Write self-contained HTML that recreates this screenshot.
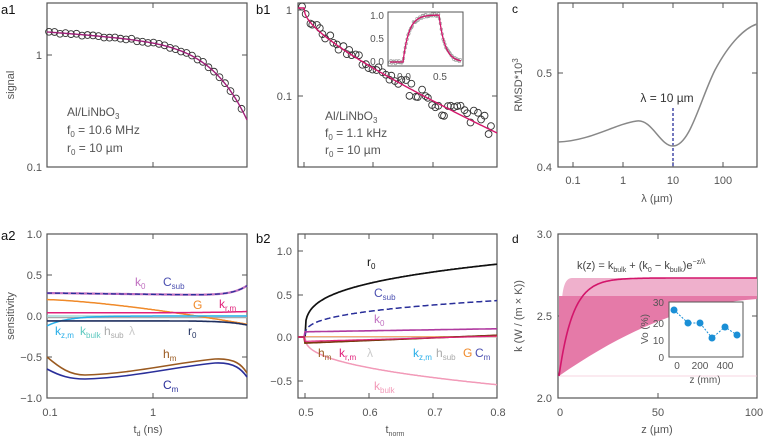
<!DOCTYPE html>
<html><head><meta charset="utf-8"><style>
html,body{margin:0;padding:0;background:#fff}
svg{display:block;font-family:"Liberation Sans",sans-serif}
.t{fill:#555;font-size:11px}
.p{fill:#111;font-size:13px}
.f{fill:none;stroke:#555;stroke-width:1.2}
</style></head><body>
<svg id="s" width="768" height="439" viewBox="0 0 768 439" xmlns="http://www.w3.org/2000/svg">
<text class="p" x="1" y="14">a1</text>
<text class="p" x="256" y="14">b1</text>
<text class="p" x="512" y="13" style="font-size:12px">c</text>
<text class="p" x="1" y="240">a2</text>
<text class="p" x="256" y="243">b2</text>
<text class="p" x="512" y="243" style="font-size:12px">d</text>

<!-- a1 -->
<rect class="f" x="47" y="3" width="200" height="164"/>
<path d="M47 55h5M247 55h-5M153 3v5M153 167v-5" stroke="#555" stroke-width="1"/>
<text class="t" x="42" y="59" text-anchor="end">1</text>
<text class="t" x="42" y="171" text-anchor="end">0.1</text>
<text class="t" transform="translate(14,85) rotate(-90)" text-anchor="middle">signal</text>
<text class="t" x="67" y="116" style="font-size:12px">Al/LiNbO<tspan font-size="8" dy="3">3</tspan></text>
<text class="t" x="67" y="134" style="font-size:12px">f<tspan font-size="8" dy="3">0</tspan><tspan dy="-3"> = 10.6 MHz</tspan></text>
<text class="t" x="67" y="152" style="font-size:12px">r<tspan font-size="8" dy="3">0</tspan><tspan dy="-3"> = 10 µm</tspan></text>
<g id="a1"></g>

<!-- b1 -->
<rect class="f" x="298" y="3" width="199" height="164"/>
<path d="M298 10h5M298 96h5M497 96h-5M304 167v-5M373 167v-5M433 167v-5M433 3v5" stroke="#555" stroke-width="1"/>
<text class="t" x="292" y="14" text-anchor="end">1</text>
<text class="t" x="292" y="100" text-anchor="end">0.1</text>
<text class="t" x="325" y="120" style="font-size:12px">Al/LiNbO<tspan font-size="8" dy="3">3</tspan></text>
<text class="t" x="325" y="137" style="font-size:12px">f<tspan font-size="8" dy="3">0</tspan><tspan dy="-3"> = 1.1 kHz</tspan></text>
<text class="t" x="325" y="154" style="font-size:12px">r<tspan font-size="8" dy="3">0</tspan><tspan dy="-3"> = 10 µm</tspan></text>
<g id="b1"></g>
<rect x="388" y="12" width="75" height="54" fill="#fff" stroke="#555" stroke-width="1"/>
<text class="t" x="384" y="19" text-anchor="end" style="font-size:10px">1.0</text>
<text class="t" x="384" y="42" text-anchor="end" style="font-size:10px">0.5</text>
<text class="t" x="384" y="65" text-anchor="end" style="font-size:10px">0.0</text>
<text class="t" x="404" y="80" text-anchor="middle" style="font-size:10px">0.0</text>
<text class="t" x="440" y="80" text-anchor="middle" style="font-size:10px">0.5</text>
<g id="b1i"></g>

<!-- c -->
<rect class="f" x="558" y="3" width="199" height="164"/>
<path d="M558 73h5M757 73h-5M573 167v-5M623 167v-5M673 167v-5M723 167v-5M573 3v5M623 3v5M673 3v5M723 3v5" stroke="#555" stroke-width="1"/>
<text class="t" x="552" y="77" text-anchor="end">0.5</text>
<text class="t" x="552" y="171" text-anchor="end">0.4</text>
<text class="t" transform="translate(522,85) rotate(-90)" text-anchor="middle">RMSD*10<tspan font-size="8" dy="-4">3</tspan></text>
<text class="t" x="573" y="184" text-anchor="middle">0.1</text>
<text class="t" x="623" y="184" text-anchor="middle">1</text>
<text class="t" x="673" y="184" text-anchor="middle">10</text>
<text class="t" x="723" y="184" text-anchor="middle">100</text>
<text class="t" x="657" y="202" text-anchor="middle">λ (µm)</text>
<text class="t" x="667" y="102" text-anchor="middle" style="font-size:12px;fill:#333">λ = 10 µm</text>
<path d="M673 108V167" stroke="#2a2f9a" stroke-width="1.3" stroke-dasharray="3,2"/>
<path d="M558 142 C590 141,615 124,637 121 C652 119,660 146,673 146 C690 146,700 100,715 70 C730 42,745 28,757 24" fill="none" stroke="#888" stroke-width="1.5"/>

<!-- a2 -->
<rect class="f" x="47" y="234" width="200" height="164"/>
<path d="M47 275h5M47 316h5M47 357h5M247 275h-5M247 357h-5M153 398v-5M153 234v5" stroke="#555" stroke-width="1"/>
<text class="t" x="42" y="238" text-anchor="end">1.0</text>
<text class="t" x="42" y="279" text-anchor="end">0.5</text>
<text class="t" x="42" y="320" text-anchor="end">0.0</text>
<text class="t" x="42" y="361" text-anchor="end">−0.5</text>
<text class="t" x="42" y="402" text-anchor="end">−1.0</text>
<text class="t" x="50" y="416" text-anchor="middle">0.1</text>
<text class="t" x="153" y="416" text-anchor="middle">1</text>
<text class="t" x="148" y="433" text-anchor="middle">t<tspan font-size="7" dy="3">d</tspan><tspan dy="-3"> (ns)</tspan></text>
<text class="t" transform="translate(14,316) rotate(-90)" text-anchor="middle">sensitivity</text>
<path d="M47 357 C60 368,70 375,85 375 C130 374,180 362,215 359 C235 358,242 365,247 373" fill="none" stroke="#9a5a20" stroke-width="1.6"/>
<path d="M47 369 C60 376,70 379,85 379 C130 378,180 366,215 363 C235 362,242 370,247 377" fill="none" stroke="#2a2f9a" stroke-width="1.6"/>
<g id="a2"></g>

<!-- b2 -->
<rect class="f" x="298" y="234" width="199" height="164"/>
<path d="M298 251h5M298 295h5M298 337h5M298 381h5M305 398v-5M369 398v-5M433 398v-5M305 234v5M369 234v5M433 234v5M497 337h-5" stroke="#555" stroke-width="1"/>
<text class="t" x="292" y="255" text-anchor="end">1.0</text>
<text class="t" x="292" y="299" text-anchor="end">0.5</text>
<text class="t" x="292" y="341" text-anchor="end">0.0</text>
<text class="t" x="292" y="385" text-anchor="end">−0.5</text>
<text class="t" x="306" y="416" text-anchor="middle">0.5</text>
<text class="t" x="370" y="416" text-anchor="middle">0.6</text>
<text class="t" x="435" y="416" text-anchor="middle">0.7</text>
<text class="t" x="498" y="416" text-anchor="middle">0.8</text>
<text class="t" x="395" y="433" text-anchor="middle">t<tspan font-size="7" dy="3">norm</tspan></text>
<g id="b2"></g>

<!-- d -->
<rect class="f" x="558" y="234" width="199" height="164"/>
<path d="M558 316h5M757 316h-5M658 398v-5M658 234v5" stroke="#555" stroke-width="1"/>
<text class="t" x="552" y="238" text-anchor="end">3.0</text>
<text class="t" x="552" y="320" text-anchor="end">2.5</text>
<text class="t" x="552" y="402" text-anchor="end">2.0</text>
<text class="t" x="560" y="416" text-anchor="middle">0</text>
<text class="t" x="658" y="416" text-anchor="middle">50</text>
<text class="t" x="754" y="416" text-anchor="middle">100</text>
<text class="t" x="657" y="433" text-anchor="middle">z (µm)</text>
<text class="t" transform="translate(522,316) rotate(-90)" text-anchor="middle">k (W / (m × K))</text>
<path d="M562 300 C563 285,566 278,572 278 L757 278 L757 296 L562 296Z" fill="#efb0cc"/>
<path d="M559 376 L559 296 L757 296 L757 299 C700 303,640 320,559 376Z" fill="#e57aa8"/>
<path d="M559 376H757" stroke="#f5c6d6" stroke-width="0.8"/>
<g id="d"></g>
<text class="t" x="577" y="269" style="font-size:11px;fill:#444">k(z) = k<tspan font-size="7" dy="3">bulk</tspan><tspan dy="-3"> + (k</tspan><tspan font-size="7" dy="3">0</tspan><tspan dy="-3"> − k</tspan><tspan font-size="7" dy="3">bulk</tspan><tspan dy="-3">)e</tspan><tspan font-size="7" dy="-5">−z/λ</tspan></text>
<rect x="669" y="302" width="74" height="55" fill="#fff" stroke="#555" stroke-width="1"/>
<text class="t" x="664" y="306" text-anchor="end" style="font-size:10px">30</text>
<text class="t" x="664" y="327" text-anchor="end" style="font-size:10px">20</text>
<text class="t" x="664" y="344" text-anchor="end" style="font-size:10px">10</text>
<text class="t" x="664" y="361" text-anchor="end" style="font-size:10px">0</text>
<text class="t" x="677" y="369" text-anchor="middle" style="font-size:10px">0</text>
<text class="t" x="700" y="369" text-anchor="middle" style="font-size:10px">200</text>
<text class="t" x="725" y="369" text-anchor="middle" style="font-size:10px">400</text>
<text class="t" x="705" y="383" text-anchor="middle" style="font-size:10px">z (mm)</text>
<text class="t" transform="translate(648,329) rotate(-90)" text-anchor="middle" style="font-size:10px">Vo (%)</text>
<polyline points="674,310 688,323 700,323 712,338 725,327 737,335" fill="none" stroke="#1a8fd6" stroke-width="1" stroke-dasharray="2,1.5"/>
<g fill="#1a8fd6"><circle cx="674" cy="310" r="3.5"/><circle cx="688" cy="323" r="3.5"/><circle cx="700" cy="323" r="3.5"/><circle cx="712" cy="338" r="3.5"/><circle cx="725" cy="327" r="3.5"/><circle cx="737" cy="335" r="3.5"/></g>
</svg>
<script>
var NS="http://www.w3.org/2000/svg";
function el(g,tag,a){var e=document.createElementNS(NS,tag);for(var k in a)e.setAttribute(k,a[k]);document.getElementById(g).appendChild(e);return e;}
function pl(g,f,x0,x1,col,w,dash){var p=[];for(var x=x0;x<=x1;x+=1)p.push(x+","+f(x).toFixed(1));var a={points:p.join(" "),fill:"none",stroke:col,"stroke-width":w||1.5};if(dash)a["stroke-dasharray"]=dash;el(g,"polyline",a);}
function lab(g,x,y,t,s,col){var e=el(g,"text",{x:x,y:y,fill:col,"font-size":12});e.appendChild(document.createTextNode(t));if(s){var ts=document.createElementNS(NS,"tspan");ts.setAttribute("font-size","8");ts.setAttribute("dy","3");ts.textContent=s;e.appendChild(ts);}}
var seed=3;function rnd(){seed=(seed*9301+49297)%233280;return seed/233280;}
function fa1(x){var t=(x-47)/200;return 32+14*t+66*Math.pow(t,6)+8*Math.pow(t,2);}
for(var x=49;x<=245;x+=5.5){el("a1","circle",{cx:x,cy:fa1(x)+(rnd()-0.5)*2,r:3.4,fill:"none",stroke:"#333","stroke-width":0.9});}
pl("a1",fa1,47,247,"#a0207a",1.4);
function fb1(x){if(x<304)return 8;var t=(x-304)/193;return 8+125*(0.55*t+0.45*Math.pow(t,0.45));}
for(var x=302;x<=492;x+=3.3){var n=(rnd()-0.5)*(x>400?22:8);el("b1","circle",{cx:x+rnd()*2,cy:fb1(x)+n,r:3.4,fill:"none",stroke:"#333","stroke-width":0.9});}
pl("b1",fb1,298,497,"#d3166b",1.4);
function fi(x){if(x<403)return 62;if(x<439)return 15+47*Math.exp(-(x-403)/6);var t=x-439;return 15+47*(1-Math.exp(-t/6));}
for(var x=390;x<=461;x+=0.9){el("b1i","circle",{cx:x,cy:fi(x)+(rnd()-0.5)*3,r:1.3,fill:"none",stroke:"#999","stroke-width":0.6});}
var ip=[];for(var x=390;x<=461;x+=0.5){ip.push(x+","+fi(x).toFixed(1));}
el("b1i","polyline",{points:ip.join(" "),fill:"none",stroke:"#d3166b","stroke-width":1.3});
var Y=function(v){return 316-v*82;};
var u=function(x){return (x-47)/200;};
pl("a2",function(x){return Y(-0.02);},47,247,"#aaaaaa",1.2);
pl("a2",function(x){return Y(0.0);},47,247,"#8fd3d0",1.2);
pl("a2",function(x){var t=u(x);return Y(0.28-0.03*t+0.12*Math.pow(t,14));},47,247,"#c070c0",2.2);
pl("a2",function(x){var t=u(x);return Y(0.28-0.03*t+0.12*Math.pow(t,14));},47,247,"#2a2f9a",1.3,"5,3");
pl("a2",function(x){var t=u(x);return Y(0.2-0.3*Math.pow(t,1.4));},47,247,"#f08a2a",1.5);
pl("a2",function(x){var t=u(x);return Y(0.04+0.015*Math.pow(t,6));},47,247,"#e0207a",1.5);
pl("a2",function(x){var t=u(x);return Y(-0.12*Math.exp(-t*10));},47,247,"#29aee8",1.5);
pl("a2",function(x){var t=u(x);return Y(-0.06-0.05*Math.pow(t,10));},47,247,"#1f2f5f",1.6);
lab("a2",135,286,"k","0","#c070c0");lab("a2",163,286,"C","sub","#4a4fb0");
lab("a2",193,309,"G","","#f08a2a");lab("a2",219,308,"k","r,m","#e0207a");
lab("a2",55,335,"k","z,m","#29aee8");lab("a2",80,335,"k","bulk","#5fc9c0");
lab("a2",104,335,"h","sub","#aaa");lab("a2",129,335,"λ","","#ccc");
lab("a2",188,335,"r","0","#1f2f5f");lab("a2",163,358,"h","m","#9a5a20");lab("a2",163,389,"C","m","#2a2f9a");
var Y2=function(v){return 337-v*86.7;};
var s=function(x){return Math.max(0,(x-305)/192);};
pl("b2",function(x){return Y2(0);},298,497,"#bbbbbb",1.3);
pl("b2",function(x){return Y2(0.005);},298,497,"#f5a060",1);
pl("b2",function(x){return Y2(0.84*Math.pow(s(x),0.28)*(x>305?1:0));},298,497,"#111",1.7);
pl("b2",function(x){return Y2(0.42*Math.pow(s(x),0.32));},298,497,"#2a2f9a",1.5,"6,3");
pl("b2",function(x){return Y2(x<305?0:0.06+0.035*s(x));},298,497,"#b03aa0",1.6);
pl("b2",function(x){return Y2(-0.55*Math.pow(s(x),0.4));},298,497,"#f29ab8",1.5);
pl("b2",function(x){var t=s(x);return Y2(x<305?0:-0.07+0.09*t);},298,497,"#7a3a10",1.7);
pl("b2",function(x){var t=s(x);return Y2(x<305?0:-0.05+0.06*t);},298,497,"#e0207a",1.2);
lab("b2",367,266,"r","0","#111");lab("b2",374,297,"C","sub","#4a4fb0");lab("b2",374,323,"k","0","#c070c0");
lab("b2",318,357,"h","m","#9a5a20");lab("b2",339,357,"k","r,m","#e0207a");lab("b2",367,357,"λ","","#ccc");
lab("b2",413,357,"k","z,m","#29aee8");lab("b2",436,357,"h","sub","#aaa");lab("b2",463,357,"G","","#f08a2a");lab("b2",475,357,"C","m","#4a4fb0");
lab("b2",374,390,"k","bulk","#f29ab8");
pl("d",function(x){return 278+98*Math.exp(-(x-559)/14);},559,757,"#d3166b",1.6);
</script>
</body></html>
